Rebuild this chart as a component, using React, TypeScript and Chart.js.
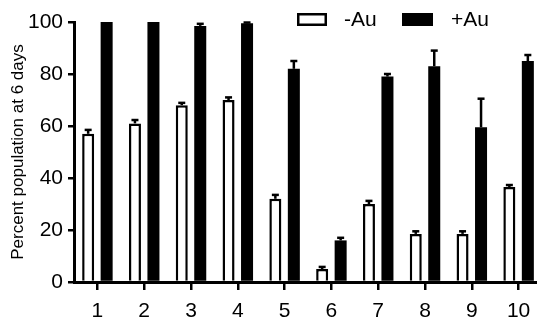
import React, { useEffect, useRef } from "react";
import { Chart, registerables } from "chart.js";

Chart.register(...registerables);

const categories = ["1", "2", "3", "4", "5", "6", "7", "8", "9", "10"];
const minusAu = [57, 61, 68, 70, 32, 5, 30, 18.5, 18.5, 36.5];
const minusAuErr = [1.5, 1.3, 0.9, 1, 1.5, 0.8, 1.2, 1, 1, 0.8];
const plusAu = [100, 100, 98.5, 99.5, 82, 16, 79, 83, 59.5, 85];
const plusAuErr = [0, 0, 0.8, 0.3, 3, 1, 1, 6, 11, 2.3];
const seriesLabels = ["-Au", "+Au"];
const yTickValues = [0, 20, 40, 60, 80, 100];

const FONT = "'Liberation Sans', Arial, Helvetica, sans-serif";

const errorBarPlugin = {
  id: "errorBars",
  afterDatasetsDraw(chart: any) {
    const ctx = chart.ctx;
    const yScale = chart.scales.y;
    chart.data.datasets.forEach((ds: any, i: number) => {
      const meta = chart.getDatasetMeta(i);
      const errs: number[] = ds.errors || [];
      meta.data.forEach((el: any, j: number) => {
        const e = errs[j];
        if (!e) return;
        const v = ds.data[j];
        const yTop = yScale.getPixelForValue(v + e);
        ctx.save();
        ctx.strokeStyle = "#000";
        ctx.lineWidth = 2.5;
        ctx.beginPath();
        ctx.moveTo(el.x, el.y);
        ctx.lineTo(el.x, yTop);
        ctx.stroke();
        ctx.beginPath();
        ctx.moveTo(el.x - 3.5, yTop);
        ctx.lineTo(el.x + 3.5, yTop);
        ctx.stroke();
        ctx.restore();
      });
    });
  },
};

const customLegendPlugin = {
  id: "customLegend",
  afterDraw(chart: any, _args: any, opts: any) {
    const ctx = chart.ctx;
    const items = opts.items || [];
    ctx.save();
    items.forEach((it: any, i: number) => {
      const ds = chart.data.datasets[i];
      ctx.fillStyle = ds.backgroundColor;
      ctx.fillRect(it.x, it.y, it.w, it.h);
      if (ds.borderWidth) {
        ctx.strokeStyle = ds.borderColor;
        ctx.lineWidth = 2.5;
        ctx.strokeRect(it.x + 1.25, it.y + 1.25, it.w - 2.5, it.h - 2.5);
      }
      ctx.fillStyle = "#000";
      ctx.font = `21px ${FONT}`;
      ctx.textBaseline = "middle";
      ctx.textAlign = "left";
      ctx.fillText(ds.label, it.tx, it.y + it.h / 2 + 1);
    });
    ctx.restore();
  },
};

export default function App() {
  const ref = useRef<HTMLCanvasElement | null>(null);

  useEffect(() => {
    if (!ref.current) return;
    const chart = new Chart(ref.current, {
      type: "bar",
      data: {
        labels: categories,
        datasets: [
          {
            label: seriesLabels[0],
            data: minusAu,
            errors: minusAuErr,
            backgroundColor: "#ffffff",
            borderColor: "#000000",
            borderWidth: 2.5,
            borderSkipped: "start",
            categoryPercentage: 0.79,
            barPercentage: 0.65,
          } as any,
          {
            label: seriesLabels[1],
            data: plusAu,
            errors: plusAuErr,
            backgroundColor: "#000000",
            borderColor: "#000000",
            borderWidth: 0,
            categoryPercentage: 0.79,
            barPercentage: 0.65,
          } as any,
        ],
      },
      options: {
        animation: false,
        responsive: false,
        events: [],
        layout: { padding: { left: 0, right: 3, top: 22, bottom: 0 } },
        plugins: {
          legend: { display: false },
          tooltip: { enabled: false },
          customLegend: {
            items: [
              { x: 297, y: 13, w: 30, h: 13, tx: 344 },
              { x: 402, y: 13, w: 31, h: 13, tx: 451 },
            ],
          },
        } as any,
        scales: {
          x: {
            offset: true,
            afterFit(scale: any) {
              scale.height = 41;
            },
            grid: {
              offset: false,
              drawOnChartArea: false,
              drawTicks: true,
              tickLength: 8,
              color: "#000",
              lineWidth: 2.5,
            },
            border: { display: true, color: "#000", width: 3 },
            ticks: {
              color: "#000",
              font: { family: FONT, size: 21 },
              padding: 9,
              maxRotation: 0,
            },
          },
          y: {
            min: 0,
            max: 100,
            afterBuildTicks(scale: any) {
              scale.ticks = yTickValues.map((v) => ({ value: v }));
            },
            afterFit(scale: any) {
              scale.width = 74;
            },
            grid: {
              drawOnChartArea: false,
              drawTicks: true,
              tickLength: 6,
              color: "#000",
              lineWidth: 2.5,
            },
            border: { display: true, color: "#000", width: 3 },
            ticks: {
              color: "#000",
              font: { family: FONT, size: 21 },
              padding: 5,
            },
            title: {
              display: true,
              text: "Percent population at 6 days",
              color: "#000",
              font: { family: FONT, size: 17 },
              padding: { top: 8, bottom: 0 },
            },
          },
        },
      },
      plugins: [errorBarPlugin, customLegendPlugin],
    });
    return () => chart.destroy();
  }, []);

  return (
    <div
      style={{
        position: "absolute",
        left: 0,
        top: 0,
        width: 537,
        height: 323,
        overflow: "hidden",
        background: "#fff",
      }}
    >
      <canvas ref={ref} width={545} height={323} style={{ width: 545, height: 323, display: "block" }} />
    </div>
  );
}
